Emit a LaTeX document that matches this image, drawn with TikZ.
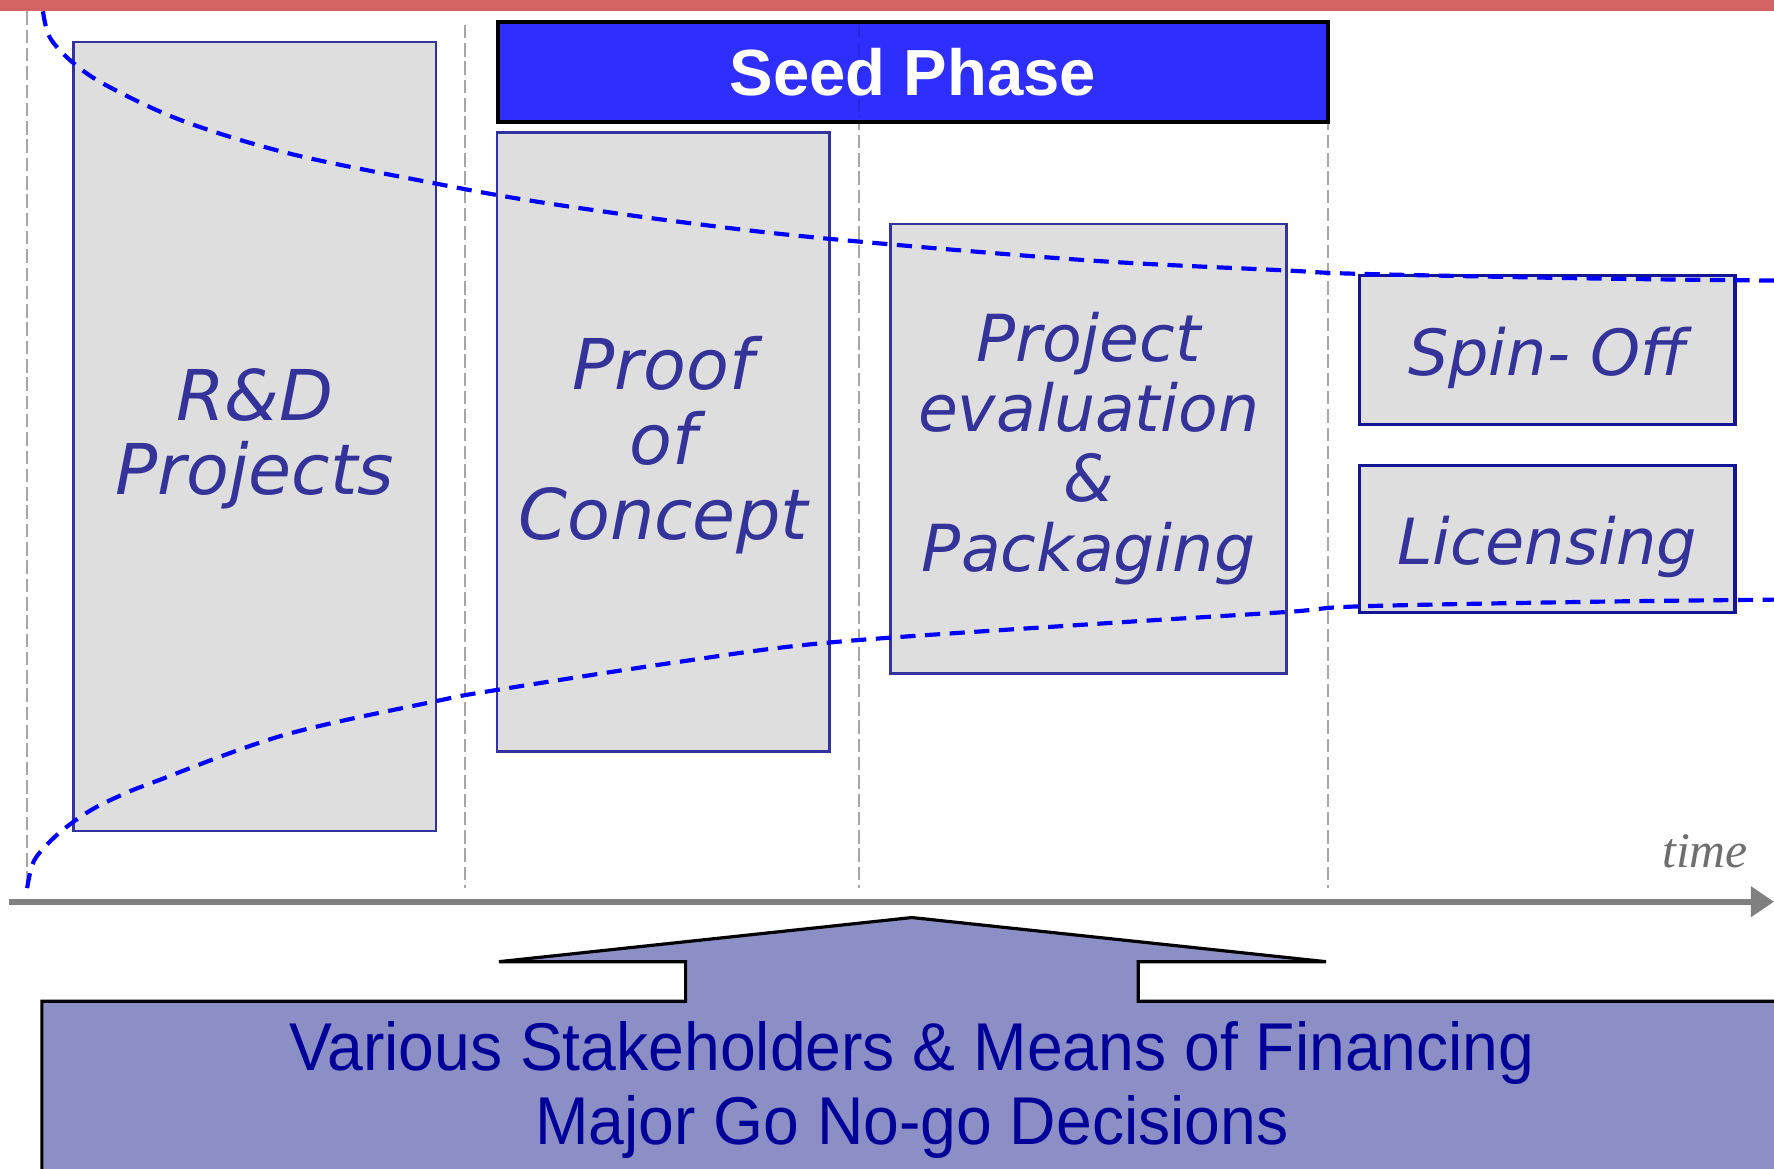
\documentclass[tikz,border=0pt]{standalone}
\usepackage{fontspec}
\usetikzlibrary{arrows.meta}
\newfontfamily\vfont{DejaVu Sans}
\newfontfamily\afont{Liberation Sans}
\newfontfamily\anarrow[FakeStretch=0.95]{Liberation Sans}
\newfontfamily\tfont{Liberation Serif}
\definecolor{topred}{RGB}{212,99,99}
\definecolor{vline}{RGB}{166,166,166}
\definecolor{bxfill}{RGB}{222,222,222}
\definecolor{bxdraw}{RGB}{51,51,160}
\definecolor{bxdrawdark}{RGB}{20,20,150}
\definecolor{bxtext}{RGB}{51,51,153}
\definecolor{seedblue}{RGB}{46,46,255}
\definecolor{curveblue}{RGB}{0,0,255}
\definecolor{axisgray}{RGB}{128,128,128}
\definecolor{timegray}{RGB}{110,110,110}
\definecolor{callfill}{RGB}{140,143,198}
\definecolor{calltext}{RGB}{0,0,153}
\tikzset{
  vdash/.style={draw=vline, line width=0.4pt, dash pattern=on 3.4pt off 1.2pt},
  phasebox/.style={draw=bxdraw, fill=bxfill, line width=0.6pt, inner sep=0pt, anchor=north west},
  outbox/.style={phasebox, draw=bxdrawdark, line width=0.8pt},
  boxtxt/.style={text=bxtext, align=center, inner sep=0pt, font=\vfont\itshape\fontsize{17.6}{18.8}\selectfont},
  smalltxt/.style={boxtxt, font=\vfont\itshape\fontsize{16}{18}\selectfont},
  seedbox/.style={draw=black, fill=seedblue, line width=1pt, inner sep=0pt, anchor=north west},
  seedtxt/.style={text=white, font=\afont\bfseries\fontsize{16.4}{18}\selectfont},
  trend/.style={draw=curveblue, line width=1.05pt, dash pattern=on 3.8pt off 2.4pt},
  axisline/.style={draw=axisgray, line width=1.6pt, -{Triangle[length=5.8pt,width=7.4pt]}},
  callout/.style={draw=black, fill=callfill, line width=0.8pt, line join=miter},
  calltxt/.style={text=calltext, align=center, font=\anarrow\fontsize{17}{18.6}\selectfont},
}
\begin{document}
\begin{tikzpicture}[x=0.01cm,y=-0.01cm]
\useasboundingbox (0,0) rectangle (1568,1033);
\clip (0,0) rectangle (1568,1033);
% top red band
\fill[topred] (0,0) rectangle (1568,10);
% vertical phase separators
\coordinate (v1t) at (24,10);   \coordinate (v1b) at (24,785);
\coordinate (v2t) at (411,22);  \coordinate (v2b) at (411,785);
\coordinate (v3t) at (759,22);  \coordinate (v3b) at (759,785);
\coordinate (v4t) at (1174,22); \coordinate (v4b) at (1174,785);
\draw[vdash] (v1t) -- (v1b);
\draw[vdash] (v2t) -- (v2b);
\draw[vdash] (v3t) -- (v3b);
\draw[vdash] (v4t) -- (v4b);
% boxes
\node[phasebox, minimum width=3.2cm, minimum height=6.97cm] (rd) at (64,36) {};
\node[boxtxt, yshift=-0.02cm] (rdt) at (rd.center) {R\&D\\Projects};
\node[phasebox, minimum width=2.94cm, minimum height=5.47cm] (poc) at (438,116) {};
\node[boxtxt, yshift=-0.03cm] (poct) at (poc.center) {Proof\\of\\Concept};
\node[phasebox, minimum width=3.5cm, minimum height=3.97cm] (pe) at (786,197) {};
\node[boxtxt, font=\vfont\itshape\fontsize{16.3}{17.6}\selectfont] (pet) at (pe.center) {Project\\evaluation\\\&\\Packaging};
\node[outbox, minimum width=3.32cm, minimum height=1.32cm] (spin) at (1200,242) {};
\node[smalltxt, yshift=-0.07cm] (spint) at (spin.center) {Spin- Off};
\node[outbox, minimum width=3.32cm, minimum height=1.30cm] (lic) at (1200,410) {};
\node[smalltxt, yshift=-0.07cm] (lict) at (lic.center) {Licensing};
\node[seedbox, minimum width=7.34cm, minimum height=0.88cm] (seed) at (438,18) {};
\draw[draw=seedblue!88!black, line width=0.4pt, dash pattern=on 3.4pt off 1.2pt] (759,22) -- (759,104);
\node[seedtxt] (seedt) at (seed.center) {Seed Phase};
% trend curves
\draw[trend] plot[smooth, tension=0.55] coordinates {(38,10) (44,33) (64,55) (95,76) (162,107) (257,136) (384,162) (473,178) (600,196) (732,211) (960,230) (1136,239) (1200,242) (1400,246) (1568,248)};
\draw[trend] plot[smooth, tension=0.55] coordinates {(24,785) (30,761) (46,742) (64,727) (84,714) (109,702) (134,692) (250,650) (384,620) (438,610) (600,585) (732,568) (960,552) (1136,541) (1200,536) (1400,532) (1568,530)};
% time axis
\coordinate (axs) at (8,797);
\coordinate (axe) at (1568,797);
\draw[axisline] (axs) -- (axe);
\node[text=timegray, font=\tfont\itshape\fontsize{12.5}{14}\selectfont] (time) at (1507,752) {time};
% callout
\draw[callout] (806,811) -- (1172,850) -- (1006,850) -- (1006,885) -- (1590,885) -- (1590,1050)
  -- (37,1050) -- (37,885) -- (606,885) -- (606,850) -- (441,850) -- cycle;
\node[calltxt] (fin) at (806,963) {Various Stakeholders \& Means of Financing\\Major Go No-go Decisions};
\end{tikzpicture}
\end{document}
